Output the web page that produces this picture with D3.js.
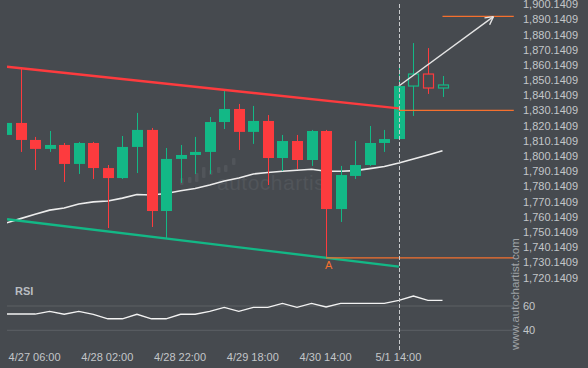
<!DOCTYPE html>
<html>
<head>
<meta charset="utf-8">
<script src="https://cdn.jsdelivr.net/npm/d3@7"></script>
<style>
  body { margin:0; background:#464a4f; }
  svg { display:block; }
  text { font-family:"Liberation Sans", Arial, sans-serif; }
</style>
</head>
<body>
<div id="chart"></div>
<script>
// bougies 4h (ouverture, haut, bas, cloture)
var opens  = [1814.0,1821.9,1810.7,1804.8,1807.4,1794.9,1808.7,1792.2,1785.6,1806.1,1817.3,1763.9,1798.2,1800.8,1802.8,1822.5,1831.1,1816.0,1823.2,1798.8,1810.0,1797.5,1816.6,1765.2,1787.0,1794.2,1808.7,1811.3,1846.2,1854.1,1844.9];
var highs  = [1821.9,1858.1,1812.7,1816.6,1808.7,1809.4,1809.4,1794.2,1813.3,1828.5,1818.6,1805.4,1807.4,1812.7,1825.8,1843.6,1834.4,1833.1,1827.1,1814.0,1814.0,1817.3,1817.3,1793.6,1810.0,1819.9,1817.3,1860.0,1874.5,1871.2,1852.8];
var lows   = [1814.0,1802.8,1790.9,1802.8,1783.0,1788.3,1785.0,1752.7,1785.0,1788.9,1753.4,1745.5,1782.4,1788.3,1788.3,1817.9,1804.1,1808.1,1781.0,1790.2,1791.6,1793.6,1733.0,1756.7,1785.0,1793.6,1802.8,1811.0,1826.5,1841.0,1839.0];
var closes = [1821.9,1810.7,1804.8,1807.4,1794.9,1808.7,1792.2,1785.6,1806.1,1817.3,1763.9,1798.2,1800.8,1802.8,1822.5,1831.1,1816.0,1823.2,1798.8,1810.0,1797.5,1816.6,1765.2,1787.6,1794.2,1808.7,1811.3,1846.2,1854.1,1844.9,1846.9];
var hollowFrom = 28; // bougies dessinees en contour

// moyenne mobile
var ma = [1756.0,1758.9,1761.8,1764.5,1765.9,1768.5,1769.9,1770.5,1772.4,1774.8,1774.5,1775.4,1777.3,1778.7,1781.0,1783.7,1785.7,1788.3,1789.3,1790.1,1790.8,1791.4,1790.1,1790.1,1790.5,1791.8,1793.2,1795.5,1798.1,1800.8,1803.6];

// RSI
var rsi = [53.4,53.4,53.4,55.6,53.2,55.6,53.2,49.5,49.5,53.2,49.5,49.5,53.2,53.2,55.6,58.9,55.6,58.9,58.9,62.2,58.9,62.2,59.2,62.2,62.2,62.2,62.2,64.7,68.2,64.7,64.7];

// canal, niveaux et prevision  [index, prix]
var upperChannel = [[0.07,1858.9],[27,1831.5]];
var lowerChannel = [[0.07,1758.5],[27,1727.3]];
var supportLevel = [[22,1733.0],[34.9,1733.0]];
var breakLevel   = [[27,1830.2],[34.9,1830.2]];
var targetLevel  = [[30,1892.1],[34.9,1892.1]];
var forecast     = [[27,1846.2],[33.5,1891.9]];
var pointA = [22,1733.0];

// axes
var priceTicks = [1720.1409,1730.1409,1740.1409,1750.1409,1760.1409,1770.1409,1780.1409,1790.1409,1800.1409,1810.1409,1820.1409,1830.1409,1840.1409,1850.1409,1860.1409,1870.1409,1880.1409,1890.1409,1900.1409];
var rsiTicks = [60,40];
var timeIndex = [2,7,12,17,22,27];
var timeLabels = ['4/27 06:00','4/28 02:00','4/28 22:00','4/29 18:00','4/30 14:00','5/1 14:00'];

var W = 588, H = 368;
var GREEN = '#13b886', RED = '#fd3b3e', ORANGE = '#f5702e';

var svg = d3.select('#chart').append('svg').attr('width',W).attr('height',H);
svg.append('rect').attr('width',W).attr('height',H).attr('fill','#464a4f');

var x = d3.scaleLinear().domain([0,30]).range([6,442.5]);
var y = d3.scaleLinear().domain([1730.1409,1890.1409]).range([262.3,19.3]);
var yr = d3.scaleLinear().domain([40,60]).range([330.3,306]);
var bw = 11;

var defs = svg.append('defs');
defs.append('clipPath').attr('id','clipMain').append('rect')
    .attr('x',7).attr('y',0).attr('width',507).attr('height',280);
defs.append('clipPath').attr('id','clipRsi').append('rect')
    .attr('x',7).attr('y',280).attr('width',507).attr('height',70);

/* ##### filigrane ##### */
var wm = svg.append('g').attr('fill','#51555a');
[[180,178,7],[188,177,6],[195,173,9],[202,167,11],[209,170,5],[217,167,6],[224,165,7],[232,158,7]].forEach(function(b){
    wm.append('rect').attr('x',b[0]).attr('y',b[1]).attr('width',3.5).attr('height',b[2]).attr('rx',1);
});
wm.append('text').attr('x',217).attr('y',190).attr('font-size',21).attr('font-family','Lato, sans-serif')
    .attr('font-weight',300).attr('letter-spacing',0.5).text('autochartist');

/* ##### panneau principal ##### */
var main = svg.append('g').attr('clip-path','url(#clipMain)');
var line = d3.line().x(function(d){return x(d[0]);}).y(function(d){return y(d[1]);});

// moyenne mobile
main.append('path').datum(ma.map(function(v,i){return [i,v];}))
    .attr('d',line).attr('fill','none').attr('stroke','#ececec').attr('stroke-width',1.6);

// bougies
var candles = main.selectAll('g.candle').data(opens.map(function(o,i){
        return {i:i,o:o,h:highs[i],l:lows[i],c:closes[i]};
    })).enter().append('g').attr('class','candle');
candles.each(function(d){
    var g = d3.select(this);
    var col = d.c >= d.o ? GREEN : RED;
    var cx = Math.round(x(d.i)) + 0.5;
    var top = y(Math.max(d.o,d.c)), bot = y(Math.min(d.o,d.c));
    if(d.i >= hollowFrom){
        g.append('line').attr('x1',cx).attr('x2',cx).attr('y1',y(d.h)).attr('y2',top).attr('stroke',col);
        g.append('line').attr('x1',cx).attr('x2',cx).attr('y1',bot).attr('y2',y(d.l)).attr('stroke',col);
        g.append('rect').attr('x',cx-bw/2+0.5).attr('y',top).attr('width',bw-1).attr('height',Math.max(1,bot-top))
            .attr('fill','none').attr('stroke',col).attr('stroke-width',1.2);
    } else {
        g.append('line').attr('x1',cx).attr('x2',cx).attr('y1',y(d.h)).attr('y2',y(d.l)).attr('stroke',col);
        g.append('rect').attr('x',cx-bw/2).attr('y',top).attr('width',bw).attr('height',Math.max(1,bot-top))
            .attr('fill',col);
    }
});

// canal
main.append('path').datum(upperChannel).attr('d',line).attr('fill','none')
    .attr('stroke',RED).attr('stroke-width',2.4);
main.append('path').datum(lowerChannel).attr('d',line).attr('fill','none')
    .attr('stroke',GREEN).attr('stroke-width',2.4);

// niveaux
[supportLevel,breakLevel,targetLevel].forEach(function(lv){
    main.append('path').datum(lv).attr('d',line).attr('fill','none')
        .attr('stroke',ORANGE).attr('stroke-width',1.3);
});

// fleche de prevision
var p0 = [x(forecast[0][0]),y(forecast[0][1])], p1 = [x(forecast[1][0]),y(forecast[1][1])];
var ang = Math.atan2(p1[1]-p0[1],p1[0]-p0[0]);
main.append('line').attr('x1',p0[0]).attr('y1',p0[1]).attr('x2',p1[0]).attr('y2',p1[1])
    .attr('stroke','#e4e4e4').attr('stroke-width',1.4);
[-0.5,0.5].forEach(function(da){
    main.append('line').attr('x1',p1[0]).attr('y1',p1[1])
        .attr('x2',p1[0]-9*Math.cos(ang+da)).attr('y2',p1[1]-9*Math.sin(ang+da))
        .attr('stroke','#e4e4e4').attr('stroke-width',1.4);
});

// point A
svg.append('text').attr('x',x(pointA[0])+2.5).attr('y',y(pointA[1])+11).attr('text-anchor','middle')
    .attr('font-size',11).attr('fill',ORANGE).text('A');

/* ##### RSI ##### */
svg.append('text').attr('x',15).attr('y',295).attr('font-size',11).attr('font-weight','bold')
    .attr('fill','#b9bdc1').text('RSI');
svg.append('g').selectAll('line').data(rsiTicks).enter().append('line')
    .attr('x1',7).attr('x2',514).attr('y1',function(d){return yr(d);}).attr('y2',function(d){return yr(d);})
    .attr('stroke','#5c6064').attr('stroke-width',1);
svg.append('g').attr('clip-path','url(#clipRsi)').append('path')
    .datum(rsi.map(function(v,i){return [i,v];}))
    .attr('d',d3.line().x(function(d){return x(d[0]);}).y(function(d){return yr(d[1]);}))
    .attr('fill','none').attr('stroke','#f2f2f2').attr('stroke-width',1.3);

// ligne verticale pointillee
svg.append('line').attr('x1',Math.round(x(27))+0.5).attr('x2',Math.round(x(27))+0.5).attr('y1',4).attr('y2',350)
    .attr('stroke','#c9cbcd').attr('stroke-width',1).attr('stroke-dasharray','4,2');

/* ##### axes ##### */
var yAxis = svg.append('g').attr('transform','translate(520,0)')
    .call(d3.axisRight(y).tickValues(priceTicks).tickFormat(d3.format(',.4f')).tickSize(0).tickPadding(3));
var rAxis = svg.append('g').attr('transform','translate(520,0)')
    .call(d3.axisRight(yr).tickValues(rsiTicks).tickSize(0).tickPadding(3));
var xAxis = svg.append('g').attr('transform','translate(-1,350)')
    .call(d3.axisBottom(x).tickValues(timeIndex).tickFormat(function(d,i){return timeLabels[i];}).tickSize(0).tickPadding(3));
[yAxis,rAxis,xAxis].forEach(function(a){
    a.select('.domain').remove();
    a.selectAll('text').attr('fill','#c3c6c9').attr('font-size',11)
        .attr('font-family','"Liberation Sans", Arial, sans-serif');
});

// filigrane vertical
svg.append('text').attr('transform','translate(519,350) rotate(-90)').attr('font-size',11.5)
    .attr('fill','#9da1a5').text('www.autochartist.com');
</script>
</body>
</html>
